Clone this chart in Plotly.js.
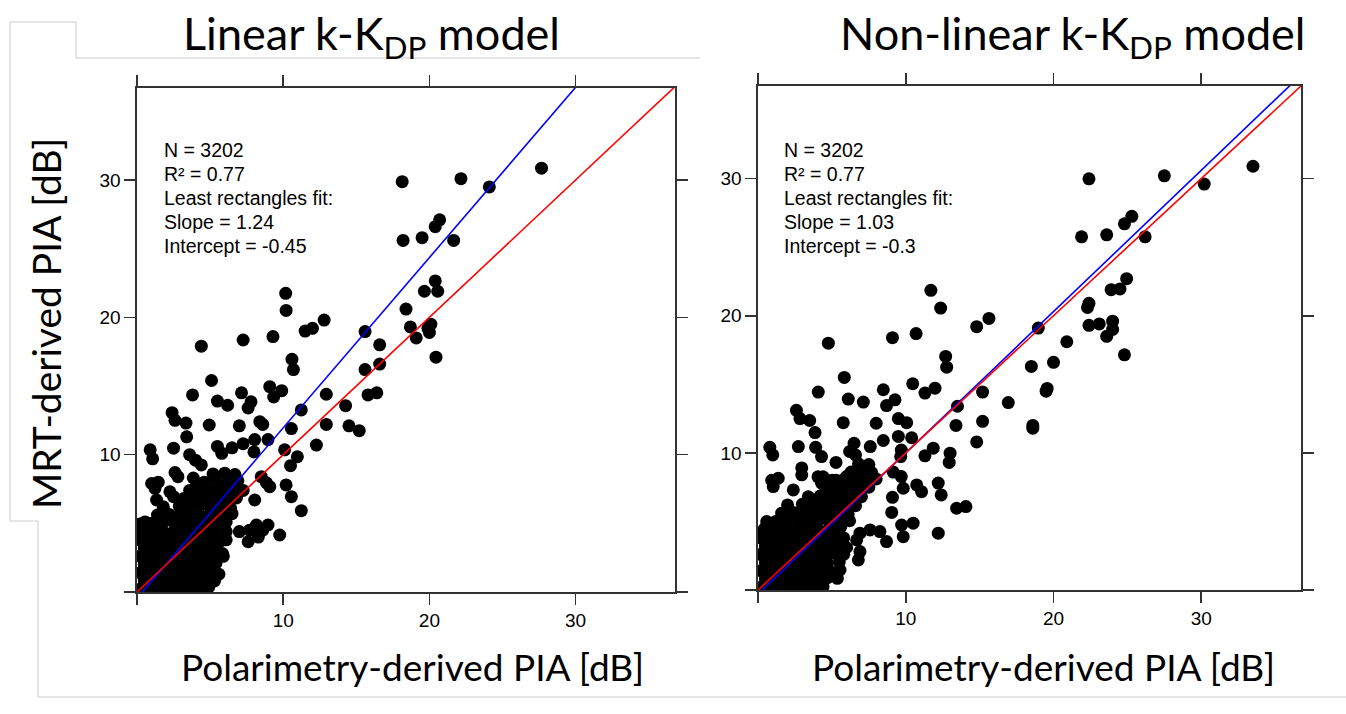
<!DOCTYPE html>
<html>
<head>
<meta charset="utf-8">
<script src="https://cdn.plot.ly/plotly-3.0.1.min.js"></script>
<style>
html,body{margin:0;padding:0;background:#fff;}
#chart{width:1346px;height:714px;}
</style>
</head>
<body>
<div id="chart"></div>
<script>
// ---------------- DATA ----------------
const panelTitles = ['Linear k-K<sub>DP</sub> model', 'Non-linear k-K<sub>DP</sub> model'];
const xAxisTitle = 'Polarimetry-derived PIA [dB]';
const yAxisTitle = 'MRT-derived PIA [dB]';
const tickVals = [10, 20, 30];
const tickText = ['10', '20', '30'];
const cornerTicks = [0];
const statN = ['3202', '3202'];
const statR2 = ['0.77', '0.77'];
const fitSlope = [1.24, 1.03];
const fitIntercept = [-0.45, -0.3];
const fitSlopeText = ['1.24', '1.03'];
const fitInterceptText = ['-0.45', '-0.3'];

// Left panel (linear model): isolated points [polarimetry PIA, MRT PIA]
const leftSparse = [
 [18.14,29.88],[18.2,25.6],[19.5,25.8],[19.66,21.9],[10.17,21.75],[10.2,20.5],[12.8,19.8],[12.0,19.2],[11.5,19.0],
 [18.4,20.6],[18.7,19.3],[19.1,18.5],[19.9,19.2],[15.6,18.96],[16.6,18.0],[9.3,18.6],[7.26,18.35],[4.4,17.9],
 [22.16,30.1],[24.1,29.5],[27.67,30.86],[20.7,27.1],[20.4,26.6],[21.66,25.6],[20.4,22.65],[20.57,21.9],[20.1,19.5],
 [20.0,18.9],[20.45,17.1],[10.6,16.95],[10.7,16.2],[16.6,16.6],[15.6,16.2],[5.1,15.4],[3.8,14.35],[5.5,13.9],[6.2,13.6],
 [7.15,14.5],[7.8,13.85],[7.6,13.4],[9.08,14.95],[9.9,14.66],[9.35,14.2],[12.95,14.4],[15.8,14.35],[16.4,14.5],
 [14.27,13.57],[11.24,13.26],[2.4,13.06],[2.6,12.5],[3.35,12.3],[4.94,12.16],[7.0,12.1],[8.4,12.4],[8.6,12.2],
 [10.56,11.9],[12.95,12.2],[14.5,12.1],[15.2,11.75],[3.4,11.3],[2.5,10.47],[5.5,10.6],[5.8,10.1],[6.5,10.5],[7.26,10.8],
 [8.05,11.1],[8.96,11.1],[8.0,10.2],[10.1,10.35],[12.27,10.7],[10.97,9.85],[10.5,9.2],[0.9,10.35],[1.07,9.7],[3.6,10.0],
 [4.4,9.25],[4.0,9.6],[2.6,8.7],[2.8,8.4],[3.85,8.3],[4.1,7.8],[1.0,7.9],[1.45,8.0],[1.23,7.55],[8.5,8.4],[8.85,7.96],
 [9.08,7.67],[10.2,7.8],[10.56,6.94],[11.24,5.92],[8.05,6.7],[7.26,7.4],[2.25,7.3],[2.5,6.94],[1.34,6.7],[0.55,5.1],
 [8.17,4.88],[8.96,4.88],[8.6,4.5],[6.1,4.4],[7.0,4.4],[7.7,4.5],[8.3,4.0],[9.76,4.15],[7.6,3.66],[6.1,3.8],[5.85,2.8],
 [4.76,0.75],[3.8,1.2],[4.1,1.6]
];
// Left panel: dense cluster near the origin
const leftDense = [
 [0.2,0.2],[0.9,0.3],[1.6,0.2],[2.3,0.3],[3.0,0.25],[3.6,0.3],[4.2,0.2],[4.9,0.35],
 [0.5,0.8],[1.2,0.85],[1.9,0.75],[2.6,0.8],[3.3,0.9],[4.0,0.8],[4.6,0.85],[5.3,0.8],
 [0.2,1.4],[0.9,1.45],[1.6,1.35],[2.3,1.4],[3.0,1.5],[3.7,1.4],[4.4,1.35],[5.0,1.5],[5.6,1.3],
 [0.5,2.0],[1.2,2.05],[1.9,1.95],[2.6,2.1],[3.3,2.0],[4.0,2.05],[4.7,1.95],[5.4,2.1],
 [0.2,2.6],[0.9,2.65],[1.6,2.55],[2.3,2.6],[3.0,2.7],[3.7,2.6],[4.4,2.55],[5.1,2.7],[5.9,2.6],
 [0.5,3.2],[1.2,3.25],[1.9,3.15],[2.6,3.2],[3.3,3.3],[4.0,3.2],[4.7,3.25],[5.4,3.15],
 [0.2,3.8],[0.9,3.85],[1.6,3.75],[2.3,3.8],[3.0,3.9],[3.7,3.8],[4.4,3.75],[5.0,3.9],[5.7,3.7],
 [0.4,4.4],[1.1,4.45],[1.8,4.35],[2.5,4.4],[3.2,4.5],[3.9,4.4],[4.6,4.45],[5.3,4.3],
 [0.2,4.95],[1.0,5.0],[1.8,5.05],[2.6,4.95],[3.3,5.1],[4.0,5.0],[4.7,5.05],[5.4,4.9],[6.1,5.1],
 [1.4,5.6],[2.2,5.65],[2.9,5.55],[3.6,5.7],[4.3,5.6],[5.0,5.65],[5.8,5.5],[6.5,5.7],
 [1.8,6.2],[2.9,6.25],[3.6,6.15],[4.3,6.3],[5.0,6.2],[5.7,6.25],[6.4,6.1],
 [3.2,6.8],[3.9,6.85],[4.6,6.75],[5.3,6.9],[6.0,6.8],[6.8,6.85],
 [3.6,7.4],[4.4,7.45],[5.1,7.35],[5.8,7.5],[6.5,7.4],
 [4.6,8.0],[5.4,8.05],[6.2,7.95],[6.9,8.1],
 [5.2,8.6],[6.0,8.65],[6.7,8.55],
 [0.55,0.5],[1.25,1.1],[2.0,1.7],[2.7,2.3],[3.4,2.9],[4.1,3.5],[4.8,4.1],[1.5,0.5],[2.8,1.1],[3.9,1.7],
 [0.5,2.3],[1.3,2.9],[2.0,3.5],[0.6,4.1],[1.4,4.7],[2.2,5.3],[3.0,5.9],[4.0,6.5],[4.9,7.1],[5.6,7.7],
 [4.6,2.3],[5.1,3.4],[5.5,4.6],[3.5,4.8],[4.3,5.3],[5.2,6.0],[6.2,6.5],[6.1,7.2]
];

// Right panel (non-linear model): isolated points
const rightSparse = [
 [11.7,21.85],[12.36,20.56],[14.8,19.2],[15.63,19.8],[18.97,19.1],[10.7,18.7],[9.1,18.4],[4.76,18.0],
 [22.4,29.98],[27.5,30.2],[30.2,29.6],[33.5,30.9],[25.3,27.25],[24.8,26.7],[21.9,25.75],[23.6,25.9],[26.2,25.75],
 [24.95,22.7],[23.9,21.9],[24.5,21.95],[22.3,20.6],[22.4,20.9],[22.4,19.3],[23.1,19.4],[24.0,19.6],[24.0,19.0],
 [23.6,18.5],[20.9,18.1],[24.8,17.15],[20.0,16.6],[18.5,16.3],[19.5,14.5],[19.57,14.7],[18.6,12.0],[18.6,11.8],
 [12.7,17.03],[12.77,16.25],[5.84,15.5],[10.47,15.04],[11.98,14.72],[11.3,14.36],[8.48,14.6],[4.08,14.43],[6.11,13.92],
 [7.13,13.7],[9.27,13.87],[8.7,13.45],[15.2,14.43],[16.94,13.67],[13.5,13.4],[2.6,13.1],[2.84,12.5],[3.5,12.36],
 [5.77,12.2],[8.0,12.16],[9.5,12.5],[10.06,12.2],[13.4,12.0],[15.2,12.3],[3.86,11.48],[9.5,11.2],[10.4,11.1],[8.48,10.9],
 [6.5,10.7],[6.2,10.1],[6.6,9.85],[7.6,10.46],[2.73,10.46],[3.9,10.4],[0.8,10.4],[1.0,9.85],[4.3,9.73],[5.28,9.3],
 [9.7,10.2],[9.66,9.73],[11.86,10.34],[11.3,9.78],[13.0,9.98],[12.94,9.3],[14.8,10.8],[2.96,8.9],[2.96,8.4],[0.93,8.0],
 [1.37,8.15],[1.03,7.54],[2.39,7.3],[4.3,7.8],[4.06,8.25],[4.4,8.25],[5.28,8.0],[6.0,8.27],[6.8,8.0],[9.15,8.6],[9.7,8.27],
 [9.83,7.42],[10.74,7.66],[11.07,7.17],[12.2,7.8],[12.4,6.93],[9.1,6.76],[9.05,5.66],[13.44,5.96],[14.07,6.08],[12.2,4.14],
 [9.72,4.74],[10.5,4.87],[9.83,3.89],[8.7,3.53],[7.58,4.38],[8.25,4.26],[6.9,4.14],[6.68,3.65],[6.9,2.8],[6.79,2.19],
 [5.55,1.46],[5.37,0.85],[4.2,0.36],[0.59,4.99],[0.47,4.5]
];
// Right panel: dense cluster near the origin
const rightDense = [
 [0.2,0.2],[0.9,0.3],[1.6,0.25],[2.3,0.3],[3.0,0.2],[3.7,0.3],[4.4,0.25],
 [0.5,0.8],[1.2,0.85],[1.9,0.8],[2.6,0.75],[3.3,0.85],[4.0,0.8],[4.7,0.9],
 [0.2,1.4],[0.9,1.35],[1.6,1.45],[2.3,1.4],[3.0,1.35],[3.7,1.45],[4.4,1.4],[5.0,1.3],
 [0.5,2.0],[1.2,2.05],[1.9,1.95],[2.6,2.0],[3.3,2.1],[4.0,2.0],[4.7,1.95],[5.5,2.05],
 [0.2,2.6],[0.9,2.55],[1.6,2.65],[2.3,2.6],[3.0,2.55],[3.7,2.65],[4.4,2.6],[5.1,2.7],[5.8,2.6],
 [0.5,3.2],[1.2,3.15],[1.9,3.25],[2.6,3.2],[3.3,3.15],[4.0,3.3],[4.7,3.2],[5.4,3.25],[6.0,3.1],
 [0.2,3.8],[0.9,3.85],[1.6,3.75],[2.3,3.8],[3.0,3.9],[3.7,3.8],[4.4,3.75],[5.1,3.85],[5.8,3.8],
 [0.4,4.4],[1.2,4.35],[2.0,4.45],[2.7,4.4],[3.4,4.5],[4.1,4.4],[4.8,4.35],[5.5,4.45],
 [1.2,5.0],[2.0,5.05],[2.7,4.95],[3.4,5.0],[4.1,5.1],[4.8,5.0],[5.5,4.95],[6.2,5.05],
 [1.6,5.6],[2.4,5.65],[3.2,5.55],[4.0,5.6],[4.7,5.7],[5.4,5.6],[6.1,5.55],
 [2.0,6.2],[3.0,6.25],[3.8,6.15],[4.5,6.2],[5.2,6.3],[5.9,6.2],[6.6,6.15],
 [3.4,6.8],[4.2,6.85],[4.9,6.75],[5.6,6.8],[6.3,6.9],[7.0,6.8],
 [4.6,7.4],[5.4,7.45],[6.1,7.35],[6.8,7.4],[7.5,7.5],
 [5.0,8.0],[5.8,8.05],[6.5,7.95],[7.3,8.0],[8.0,8.1],
 [6.3,8.6],[7.0,8.65],[7.7,8.55],
 [6.8,9.2],[7.5,9.15],
 [0.55,0.5],[1.25,1.1],[2.0,1.7],[2.7,2.3],[3.4,2.9],[4.1,3.5],[4.8,4.1],[1.5,0.5],[2.8,1.1],[3.9,1.7],
 [0.5,2.3],[1.3,2.9],[2.0,3.5],[0.7,4.1],[1.6,4.7],[2.3,5.3],[3.1,5.9],[4.1,6.5],[5.0,7.1],[5.7,7.7],
 [4.6,2.3],[5.2,3.4],[5.6,4.6],[3.6,4.8],[4.4,5.3],[5.3,6.0],[6.3,6.5],[6.3,7.2],[6.9,7.7],[7.3,8.9]
];

// ---------------- LAYOUT HELPERS ----------------
const W = 1346, H = 714;
const fx = x => x / W;
const fy = y => 1 - y / H;
const FONT_TXT = 'Arial, "Liberation Sans", sans-serif';
const FONT_TTL = 'Lato, "Open Sans", sans-serif';
const AX_COL = '#333';

// panel geometry in pixels
const panels = [
  {l:137, r:675, t:88, b:592, xmax:36.8, ymax:36.7, titleX:371, xTitleX:412, statX:163},
  {l:758, r:1301, t:86, b:590, xmax:36.75, ymax:36.75, titleX:1072, xTitleX:1043, statX:783}
];
const statLineY = [149, 173, 197, 221, 245];
const pointSets = [leftSparse.concat(leftDense), rightSparse.concat(rightDense)];

function axisCfg(domain, range, anchor) {
  return {
    domain: domain, range: range, anchor: anchor,
    showline: true, linecolor: AX_COL, linewidth: 1.6, mirror: 'ticks',
    ticks: 'outside', ticklen: 11, tickwidth: 1.6, tickcolor: AX_COL,
    tickmode: 'array', tickvals: tickVals, ticktext: tickText,
    minor: {tickmode: 'array', tickvals: cornerTicks, ticks: 'outside', ticklen: 11,
            tickwidth: 1.6, tickcolor: AX_COL, showgrid: false},
    tickfont: {family: FONT_TXT, size: 19, color: '#000'},
    showgrid: false, zeroline: false, fixedrange: true
  };
}

const data = [];
const layout = {
  width: W, height: H,
  margin: {l:0, r:0, t:0, b:0},
  paper_bgcolor: '#fff', plot_bgcolor: '#fff',
  showlegend: false, hovermode: false,
  annotations: [], shapes: []
};

panels.forEach((p, i) => {
  const xs = i === 0 ? 'x' : 'x2';
  const ys = i === 0 ? 'y' : 'y2';
  const xk = i === 0 ? 'xaxis' : 'xaxis2';
  const yk = i === 0 ? 'yaxis' : 'yaxis2';
  layout[xk] = axisCfg([fx(p.l), fx(p.r)], [0, p.xmax], ys);
  layout[yk] = axisCfg([fy(p.b), fy(p.t)], [0, p.ymax], xs);

  const pts = pointSets[i];
  data.push({
    type: 'scatter', mode: 'markers', xaxis: xs, yaxis: ys,
    x: pts.map(d => d[0]), y: pts.map(d => d[1]),
    marker: {size: 13, color: '#000', line: {width: 0}},
    cliponaxis: true
  });
  const lx = [0, 40];
  data.push({
    type: 'scatter', mode: 'lines', xaxis: xs, yaxis: ys,
    x: lx, y: lx.map(v => fitSlope[i] * v + fitIntercept[i]),
    line: {color: '#0000ff', width: 1.6}
  });
  data.push({
    type: 'scatter', mode: 'lines', xaxis: xs, yaxis: ys,
    x: lx, y: lx.slice(),
    line: {color: '#ff0000', width: 1.6}
  });

  layout.annotations.push({
    xref: 'paper', yref: 'paper', x: fx(p.titleX), y: fy(36),
    xanchor: 'center', yanchor: 'middle', showarrow: false,
    text: panelTitles[i], font: {family: FONT_TTL, size: 45, color: '#000'}
  });
  layout.annotations.push({
    xref: 'paper', yref: 'paper', x: fx(p.xTitleX), y: fy(666),
    xanchor: 'center', yanchor: 'middle', showarrow: false,
    text: xAxisTitle, font: {family: FONT_TTL, size: 37, color: '#000'}
  });
  const statLines = ['N = ' + statN[i], 'R² = ' + statR2[i], 'Least rectangles fit:',
                     'Slope = ' + fitSlopeText[i], 'Intercept = ' + fitInterceptText[i]];
  statLines.forEach((t, k) => {
    layout.annotations.push({
      xref: 'paper', yref: 'paper', x: fx(p.statX), y: fy(statLineY[k] + 1),
      xanchor: 'left', yanchor: 'middle', align: 'left', showarrow: false, borderpad: 0,
      text: t, font: {family: FONT_TXT, size: 19.5, color: '#000'}
    });
  });
});

layout.annotations.push({
  xref: 'paper', yref: 'paper', x: fx(46), y: fy(324),
  xanchor: 'center', yanchor: 'middle', showarrow: false, textangle: -90,
  text: yAxisTitle, font: {family: FONT_TTL, size: 39, color: '#000'}
});

// faint outline of the slide text box
const P = (x, y) => fx(x) + ',' + fy(y);
layout.shapes.push({
  type: 'path', xref: 'paper', yref: 'paper', layer: 'below',
  path: 'M' + P(10,22) + 'L' + P(76,22) + 'L' + P(76,58) + 'L' + P(700,58),
  line: {color: '#cccccc', width: 1}
});
layout.shapes.push({
  type: 'path', xref: 'paper', yref: 'paper', layer: 'below',
  path: 'M' + P(10,22) + 'L' + P(10,521) + 'L' + P(38,521) + 'L' + P(38,697) + 'L' + P(1346,697),
  line: {color: '#cccccc', width: 1}
});

Plotly.newPlot('chart', data, layout, {displayModeBar: false, staticPlot: true});
</script>
</body>
</html>
